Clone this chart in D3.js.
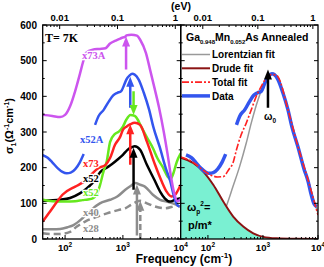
<!DOCTYPE html>
<html>
<head>
<meta charset="utf-8">
<script src="https://cdn.jsdelivr.net/npm/d3@7"></script>
<style>
  body { margin: 0; background: #fff; }
  svg { display: block; }
  text { font-family: Arial, "Liberation Sans", sans-serif; font-weight: bold; }
  .serif { font-family: "Liberation Serif", "Times New Roman", serif; }
  .halo { stroke: #fff; stroke-width: 2.5px; paint-order: stroke; stroke-linejoin: round; }
</style>
</head>
<body>
<div id="chart"></div>
<script>
// [frequency cm-1, sigma_1]
const x73A = [[41,348],[60,345],[82,342],[100,348],[122,372],[149,414],[182,465],[205,497],[230,522],[300,531],[400,533],[500,535],[600,548],[750,556],[900,562],[1000,565],[1080,566],[1150,571],[1400,573],[1750,570],[2000,558],[2500,522],[3000,470],[3500,425],[4200,370],[5100,300],[5900,240],[6900,168],[7800,125],[8800,106],[10000,112]];
const x52A_a = [[40,236],[50,228],[60,215],[75,198],[90,188],[107,184],[125,186],[150,196],[180,215],[210,238]];
const x52A_b = [[330,320],[380,345],[465,362],[573,386],[680,403],[800,410],[931,414],[1050,432],[1148,447],[1300,458],[1450,463],[1600,461],[1875,447],[2300,410],[2850,362],[3350,315],[4330,258],[5600,195],[6600,162],[7500,125],[8500,98],[9500,91]];
const x52g = [[41,110],[60,106],[100,105],[150,106],[200,109],[250,111],[300,114],[350,124],[403,152],[460,188],[526,218],[601,272],[733,295],[850,301],[1000,315],[1150,335],[1350,348],[1600,345],[1800,335],[2000,320],[2600,285],[3300,255],[4000,225],[5000,199],[6000,174],[6700,168],[7500,185],[8500,215],[10000,240]];
const x73 = [[41,49],[55,77],[73,105],[90,124],[150,147],[200,158],[250,170],[300,185],[380,199],[500,208],[600,227],[730,264],[900,287],[1000,306],[1150,315],[1350,322],[1600,326],[1985,320],[2600,273],[3600,208],[4700,161],[5700,133],[6900,119],[8000,124],[10000,152]];
const x52 = [[41,107],[82,110],[122,115],[180,128],[222,138],[270,150],[330,165],[403,187],[526,200],[650,210],[800,222],[1000,236],[1200,250],[1450,258],[1600,260],[1985,250],[2600,208],[3500,166],[4400,133],[5300,114],[6500,105],[8000,110],[10000,114]];
const x40 = [[41,27],[60,27],[82,28],[110,33],[140,39],[200,58],[240,70],[300,85],[400,100],[600,110],[800,119],[1100,138],[1400,150],[1640,157],[2000,152],[2400,147],[3300,124],[4400,110],[5700,105],[7300,100],[10000,90]];
const x28 = [[41,16],[60,14],[82,14],[122,20],[160,35],[230,50],[350,62],[530,72],[830,81],[1100,86],[1400,96],[1985,107],[2600,100],[3600,91],[5400,86],[7300,91],[9000,96]];

// right panel fits
const drude = [[32,228],[54,213],[82,189],[125,152],[190,105],[288,63],[438,35],[667,16],[1012,6],[1774,2],[4000,0.5],[10000,0.1]];
const lorentz = [[32,1],[60,4],[100,12],[150,35],[215,91],[285,147],[376,203],[497,269],[612,325],[811,390],[1000,428],[1233,456],[1520,465],[1875,451],[2850,362],[4330,259],[6580,166],[10000,72]];
const totalFit = [[32,230],[54,215],[82,193],[110,180],[150,174],[190,175],[240,195],[285,213],[330,250],[390,287],[497,325],[612,362],[755,400],[931,428],[1148,451],[1416,461],[1700,460],[1875,455],[2850,362],[4330,259],[6580,166],[10000,67]];

// arrows: frequency, start sigma, end sigma
const arrowFreq = [1135, 1340, 1530, 1340, 1530, 1750, 2000];
const arrowFrom = [475, 368, 414, 208, 138, 10, 0];
const arrowTo   = [568, 455, 348, 322, 256, 153, 107];
const w0Arrow = [1233, 368, 475];

const yTicks = [0, 100, 200, 300, 400, 500, 600];
const EV = 8065.5;

const W = 324, H = 267;
const yTop = 25, yBot = 239;
const y = d3.scaleLinear().domain([0, 600]).range([yBot, yTop]);
const xL = d3.scaleLog().domain([41, 10000]).range([42.7, 180.7]);
const xR = d3.scaleLog().domain([32, 10000]).range([180.7, 318]);

const C = {purple:'#cc55ee', blue:'#3355ee', green:'#66e81e', red:'#ff2222', black:'#000', gray:'#8c8c8c', drude:'#8b1414', fill:'#7af0d2'};

const svg = d3.select('#chart').append('svg').attr('width', W).attr('height', H);
const defs = svg.append('defs');
[['clipL', xL], ['clipR', xR]].forEach(([id, x]) => {
  defs.append('clipPath').attr('id', id).append('rect')
    .attr('x', x.range()[0]).attr('y', yTop).attr('width', x.range()[1] - x.range()[0]).attr('height', yBot - yTop);
});

function curve(g, x, data, color, width, dash) {
  const line = d3.line().x(d => x(d[0])).y(d => y(d[1])).curve(d3.curveMonotoneX);
  g.append('path').attr('d', line(data)).attr('fill', 'none')
    .attr('stroke', color).attr('stroke-width', width)
    .attr('stroke-dasharray', dash || null).attr('stroke-linejoin', 'round');
}

function arrow(g, x, f, from, to, color, dashed) {
  const px = x(f), y0 = y(from), y1 = y(to);
  const dir = y1 < y0 ? 1 : -1, head = 10, hw = 4;
  g.append('line').attr('x1', px).attr('x2', px).attr('y1', y0).attr('y2', y1 + dir * head * 0.8)
    .attr('stroke', color).attr('stroke-width', 2.5).attr('stroke-dasharray', dashed ? '6,3' : null);
  g.append('path').attr('d', `M${px},${y1}L${px - hw},${y1 + dir * head}L${px + hw},${y1 + dir * head}Z`).attr('fill', color);
}

function frame(x) {
  const [x0, x1] = x.range();
  const [d0, d1] = x.domain();
  const g = svg.append('g').attr('stroke', '#000').attr('stroke-width', 1);
  // bottom ticks
  for (let e = 1; e <= 4; e++) for (let m = 1; m < 10; m++) {
    const v = m * Math.pow(10, e);
    if (v < d0 || v > d1) continue;
    const len = m === 1 ? 4 : 2;
    g.append('line').attr('x1', x(v)).attr('x2', x(v)).attr('y1', yBot).attr('y2', yBot - len);
  }
  // top eV ticks
  for (let e = -3; e <= 0; e++) for (let m = 1; m < 10; m++) {
    const v = m * Math.pow(10, e) * EV;
    if (v < d0 || v > d1) continue;
    const len = m === 1 ? 4 : 2;
    g.append('line').attr('x1', x(v)).attr('x2', x(v)).attr('y1', yTop).attr('y2', yTop + len);
  }
  // y ticks both sides
  for (let v = 0; v <= 600; v += 50) {
    const len = v % 100 === 0 ? 4 : 2;
    g.append('line').attr('x1', x0).attr('x2', x0 + len).attr('y1', y(v)).attr('y2', y(v));
    g.append('line').attr('x1', x1).attr('x2', x1 - len).attr('y1', y(v)).attr('y2', y(v));
  }
  g.append('rect').attr('x', x0).attr('y', yTop).attr('width', x1 - x0).attr('height', yBot - yTop)
    .attr('fill', 'none').attr('stroke-width', 1.3);

  // bottom labels
  [2, 3, 4].forEach(e => {
    const t = svg.append('text').attr('x', x(Math.pow(10, e))).attr('y', 251)
      .attr('text-anchor', 'middle').attr('font-size', 9.5);
    t.append('tspan').text('10');
    t.append('tspan').attr('dy', -4).attr('font-size', 6.5).text(e);
  });
  // top labels
  [[0.01, '0.01'], [0.1, '0.1'], [1, '1']].forEach(([v, s]) => {
    svg.append('text').attr('x', x(v * EV)).attr('y', 21)
      .attr('text-anchor', 'middle').attr('font-size', 9.5).text(s);
  });
}

// ---------- left panel ----------
const gL = svg.append('g').attr('clip-path', 'url(#clipL)');
curve(gL, xL, x28, C.gray, 2.5, '7,4');
curve(gL, xL, x40, C.gray, 2.5);
curve(gL, xL, x52, C.black, 2.5);
curve(gL, xL, x52g, C.green, 2.5);
curve(gL, xL, x73, C.red, 2.5);
curve(gL, xL, x52A_a, C.blue, 2.5);
curve(gL, xL, x52A_b, C.blue, 2.5);
curve(gL, xL, x73A, C.purple, 2.5);

const arrowColor = [C.purple, C.blue, C.green, C.red, C.black, C.gray, C.gray];
arrowFreq.forEach((f, i) => arrow(gL, xL, f, arrowFrom[i], arrowTo[i], arrowColor[i], i === 6));

frame(xL);

yTicks.forEach(v => {
  svg.append('text').attr('x', 37).attr('y', y(v) + 3.5).attr('text-anchor', 'end')
    .attr('font-size', 10).text(v);
});

// series labels (white halo so the curves break around them)
[['x73A', 197, 505, C.purple], ['x52A', 182, 270, C.blue], ['x73', 205, 202, C.red],
 ['x52', 205, 160, C.black], ['x52', 205, 121, C.green], ['x40', 205, 65, C.gray], ['x28', 205, 20, C.gray]]
  .forEach(([s, f, v, c]) => {
    svg.append('text').attr('class', 'serif halo').attr('x', xL(f)).attr('y', y(v))
      .attr('font-size', 10.5).attr('fill', c).text(s);
  });
svg.append('text').attr('class', 'serif').attr('x', 45).attr('y', 42).attr('font-size', 12).text('T= 7K');

// ---------- right panel ----------
const gR = svg.append('g').attr('clip-path', 'url(#clipR)');
curve(gR, xR, lorentz, '#999', 1.5);
const area = d3.area().x(d => xR(d[0])).y0(y(0)).y1(d => y(d[1])).curve(d3.curveMonotoneX);
gR.append('path').attr('d', area(drude)).attr('fill', C.fill);
curve(gR, xR, drude, C.drude, 2);
curve(gR, xR, x52A_a, C.blue, 3.5);
curve(gR, xR, x52A_b, C.blue, 3.5);
curve(gR, xR, totalFit, C.red, 1.6, '7,2,2,2');
arrow(gR, xR, w0Arrow[0], w0Arrow[1], w0Arrow[2], '#000');

frame(xR);

// legend
const legend = [['Lorentzian fit', '#999', 1.5, null], ['Drude fit', C.drude, 2, null],
                ['Total fit', C.red, 1.6, '7,2,2,2'], ['Data', C.blue, 3.5, null]];
legend.forEach(([s, c, w, dash], i) => {
  const ly = 54.5 + i * 13.8;
  svg.append('line').attr('x1', 182).attr('x2', 210).attr('y1', ly).attr('y2', ly)
    .attr('stroke', c).attr('stroke-width', w).attr('stroke-dasharray', dash);
  svg.append('text').attr('x', 212).attr('y', ly + 3.6).attr('font-size', 10).text(s);
});

const title = svg.append('text').attr('x', 186).attr('y', 41).attr('font-size', 10.5);
title.append('tspan').text('Ga');
title.append('tspan').attr('dy', 2.5).attr('font-size', 6).text('0.948');
title.append('tspan').attr('dy', -2.5).text('Mn');
title.append('tspan').attr('dy', 2.5).attr('font-size', 6).text('0.052');
title.append('tspan').attr('dy', -2.5).text('As Annealed');

const w0 = svg.append('text').attr('x', xR(w0Arrow[0]) - 4).attr('y', 120).attr('font-size', 10);
w0.append('tspan').text('ω');
w0.append('tspan').attr('dy', 3).attr('font-size', 6.5).text('0');

const wp = svg.append('text').attr('x', 187).attr('y', 211).attr('font-size', 11);
wp.append('tspan').text('ω');
wp.append('tspan').attr('dy', 3).attr('font-size', 6.5).text('p');
wp.append('tspan').attr('dy', -8).attr('font-size', 6.5).text('2');
wp.append('tspan').attr('dy', 5).text('=');
svg.append('text').attr('x', 188).attr('y', 229).attr('font-size', 11).text('p/m*');

// axis titles
svg.append('text').attr('x', 181).attr('y', 9.5).attr('text-anchor', 'middle').attr('font-size', 10.5).text('(eV)');
const xt = svg.append('text').attr('x', 184).attr('y', 263).attr('text-anchor', 'middle').attr('font-size', 12);
xt.append('tspan').text('Frequency (cm');
xt.append('tspan').attr('dy', -5).attr('font-size', 8).text('-1');
xt.append('tspan').attr('dy', 5).text(')');

const yt = svg.append('text').attr('transform', 'translate(13,126) rotate(-90)')
  .attr('text-anchor', 'middle').attr('font-size', 11);
yt.append('tspan').text('σ');
yt.append('tspan').attr('dy', 3).attr('font-size', 7).text('1');
yt.append('tspan').attr('dy', -3).text('(Ω');
yt.append('tspan').attr('dy', -4).attr('font-size', 7).text('-1');
yt.append('tspan').attr('dy', 4).text('cm');
yt.append('tspan').attr('dy', -4).attr('font-size', 7).text('-1');
yt.append('tspan').attr('dy', 4).text(')');
</script>
</body>
</html>
